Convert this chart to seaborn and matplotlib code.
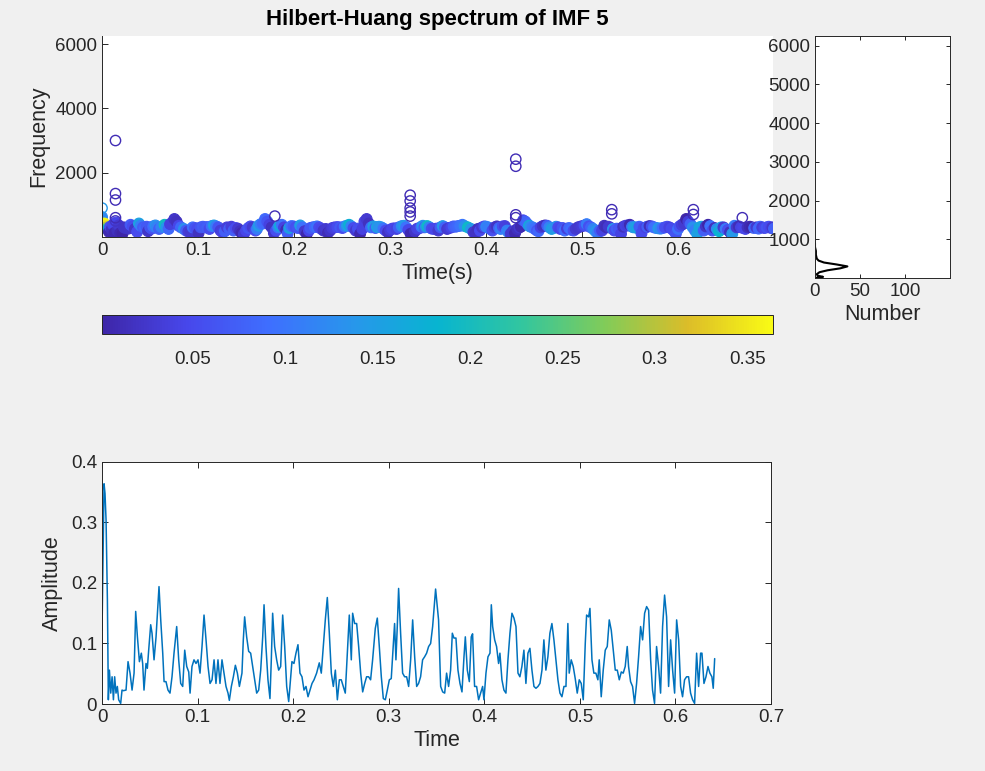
import matplotlib
matplotlib.use("Agg")
import matplotlib.pyplot as plt
import numpy as np
import seaborn as sns
from matplotlib.colors import LinearSegmentedColormap, Normalize
from matplotlib.cm import ScalarMappable
from matplotlib.ticker import FuncFormatter

# --- data ---
time_s = [
    0.0000, 0.0021, 0.0031, 0.0042, 0.0049, 0.0056, 0.0066, 0.0077, 0.0091, 0.0105,
    0.0119, 0.0132, 0.0146, 0.0160, 0.0174, 0.0195, 0.0209, 0.0223, 0.0251, 0.0272,
    0.0293, 0.0314, 0.0335, 0.0352, 0.0370, 0.0391, 0.0411, 0.0425, 0.0439, 0.0460,
    0.0474, 0.0488, 0.0509, 0.0523, 0.0544, 0.0565, 0.0596, 0.0614, 0.0635, 0.0649,
    0.0669, 0.0690, 0.0711, 0.0732, 0.0753, 0.0781, 0.0802, 0.0823, 0.0844, 0.0865,
    0.0886, 0.0907, 0.0921, 0.0941, 0.0962, 0.0983, 0.1004, 0.1025, 0.1046, 0.1067,
    0.1088, 0.1109, 0.1130, 0.1151, 0.1172, 0.1192, 0.1213, 0.1234, 0.1255, 0.1276,
    0.1297, 0.1318, 0.1332, 0.1353, 0.1374, 0.1395, 0.1416, 0.1437, 0.1464, 0.1478,
    0.1492, 0.1513, 0.1534, 0.1555, 0.1576, 0.1597, 0.1618, 0.1639, 0.1660, 0.1681,
    0.1695, 0.1715, 0.1736, 0.1757, 0.1771, 0.1785, 0.1806, 0.1827, 0.1848, 0.1869,
    0.1890, 0.1911, 0.1932, 0.1953, 0.1974, 0.1987, 0.2008, 0.2029, 0.2050, 0.2071,
    0.2092, 0.2113, 0.2134, 0.2155, 0.2176, 0.2197, 0.2218, 0.2245, 0.2273, 0.2294,
    0.2315, 0.2336, 0.2357, 0.2378, 0.2399, 0.2420, 0.2441, 0.2462, 0.2483, 0.2503,
    0.2524, 0.2545, 0.2566, 0.2587, 0.2608, 0.2622, 0.2643, 0.2664, 0.2685, 0.2706,
    0.2727, 0.2748, 0.2768, 0.2789, 0.2810, 0.2831, 0.2859, 0.2880, 0.2901, 0.2922,
    0.2943, 0.2964, 0.2985, 0.3006, 0.3026, 0.3047, 0.3061, 0.3075, 0.3089, 0.3103,
    0.3124, 0.3145, 0.3166, 0.3187, 0.3208, 0.3229, 0.3250, 0.3271, 0.3292, 0.3312,
    0.3333, 0.3354, 0.3375, 0.3396, 0.3417, 0.3438, 0.3459, 0.3490, 0.3521, 0.3543,
    0.3564, 0.3585, 0.3605, 0.3626, 0.3647, 0.3665, 0.3682, 0.3703, 0.3724, 0.3745,
    0.3766, 0.3787, 0.3801, 0.3822, 0.3843, 0.3863, 0.3877, 0.3898, 0.3919, 0.3940,
    0.3961, 0.3982, 0.3996, 0.4017, 0.4038, 0.4059, 0.4073, 0.4087, 0.4108, 0.4128,
    0.4149, 0.4163, 0.4184, 0.4205, 0.4226, 0.4247, 0.4268, 0.4289, 0.4310, 0.4331,
    0.4352, 0.4372, 0.4393, 0.4414, 0.4435, 0.4456, 0.4477, 0.4498, 0.4519, 0.4540,
    0.4561, 0.4582, 0.4603, 0.4623, 0.4644, 0.4665, 0.4686, 0.4707, 0.4728, 0.4749,
    0.4770, 0.4791, 0.4812, 0.4833, 0.4854, 0.4874, 0.4888, 0.4909, 0.4930, 0.4951,
    0.4972, 0.4993, 0.5014, 0.5035, 0.5056, 0.5070, 0.5091, 0.5105, 0.5126, 0.5146,
    0.5167, 0.5188, 0.5202, 0.5223, 0.5244, 0.5265, 0.5286, 0.5307, 0.5328, 0.5349,
    0.5370, 0.5391, 0.5412, 0.5433, 0.5453, 0.5474, 0.5495, 0.5509, 0.5530, 0.5551,
    0.5572, 0.5593, 0.5614, 0.5635, 0.5656, 0.5677, 0.5698, 0.5719, 0.5740, 0.5760,
    0.5781, 0.5802, 0.5823, 0.5844, 0.5865, 0.5886, 0.5907, 0.5928, 0.5949, 0.5970,
    0.5991, 0.6012, 0.6033, 0.6054, 0.6074, 0.6095, 0.6116, 0.6137, 0.6158, 0.6179,
    0.6200, 0.6221, 0.6242, 0.6263, 0.6277, 0.6298, 0.6319, 0.6340, 0.6360, 0.6381,
    0.6395, 0.6410,
]

amplitude = [
    0.122, 0.364, 0.348, 0.304, 0.238, 0.172, 0.007, 0.056, 0.018, 0.045,
    0.007, 0.045, 0.018, 0.029, 0.007, 0.001, 0.023, 0.022, 0.023, 0.070,
    0.051, 0.023, 0.051, 0.153, 0.111, 0.070, 0.084, 0.067, 0.023, 0.067,
    0.059, 0.089, 0.131, 0.117, 0.073, 0.111, 0.194, 0.139, 0.084, 0.037,
    0.037, 0.023, 0.018, 0.045, 0.084, 0.128, 0.073, 0.034, 0.029, 0.089,
    0.062, 0.053, 0.018, 0.062, 0.073, 0.067, 0.073, 0.051, 0.095, 0.147,
    0.106, 0.062, 0.034, 0.040, 0.073, 0.034, 0.073, 0.034, 0.073, 0.051,
    0.029, 0.018, 0.006, 0.029, 0.045, 0.064, 0.051, 0.029, 0.051, 0.106,
    0.144, 0.111, 0.087, 0.084, 0.062, 0.040, 0.018, 0.023, 0.056, 0.111,
    0.164, 0.095, 0.040, 0.009, 0.073, 0.150, 0.095, 0.073, 0.056, 0.062,
    0.147, 0.095, 0.029, 0.004, 0.045, 0.070, 0.067, 0.084, 0.098, 0.051,
    0.045, 0.023, 0.029, 0.012, 0.023, 0.034, 0.040, 0.051, 0.068, 0.051,
    0.095, 0.139, 0.176, 0.117, 0.051, 0.029, 0.056, 0.007, 0.040, 0.040,
    0.029, 0.018, 0.084, 0.147, 0.073, 0.150, 0.133, 0.133, 0.095, 0.051,
    0.020, 0.034, 0.045, 0.045, 0.040, 0.073, 0.125, 0.142, 0.095, 0.045,
    0.009, 0.007, 0.023, 0.040, 0.042, 0.095, 0.133, 0.073, 0.128, 0.191,
    0.117, 0.051, 0.045, 0.045, 0.029, 0.073, 0.139, 0.078, 0.029, 0.034,
    0.045, 0.073, 0.078, 0.084, 0.095, 0.100, 0.128, 0.190, 0.139, 0.029,
    0.020, 0.018, 0.051, 0.029, 0.056, 0.117, 0.109, 0.109, 0.056, 0.034,
    0.020, 0.078, 0.111, 0.056, 0.037, 0.111, 0.116, 0.029, 0.029, 0.007,
    0.018, 0.029, 0.007, 0.051, 0.078, 0.084, 0.164, 0.128, 0.106, 0.095,
    0.067, 0.084, 0.040, 0.023, 0.018, 0.073, 0.117, 0.150, 0.142, 0.128,
    0.051, 0.045, 0.062, 0.089, 0.034, 0.084, 0.092, 0.056, 0.029, 0.026,
    0.029, 0.034, 0.056, 0.106, 0.056, 0.078, 0.117, 0.133, 0.106, 0.073,
    0.040, 0.018, 0.012, 0.029, 0.029, 0.133, 0.051, 0.073, 0.062, 0.042,
    0.018, 0.040, 0.034, 0.007, 0.100, 0.147, 0.144, 0.158, 0.073, 0.051,
    0.051, 0.040, 0.073, 0.012, 0.056, 0.089, 0.095, 0.139, 0.122, 0.089,
    0.056, 0.056, 0.040, 0.053, 0.051, 0.062, 0.095, 0.062, 0.037, 0.029,
    0.001, 0.034, 0.078, 0.128, 0.106, 0.150, 0.161, 0.155, 0.073, 0.023,
    0.001, 0.095, 0.062, 0.018, 0.128, 0.180, 0.144, 0.029, 0.106, 0.056,
    0.018, 0.139, 0.106, 0.029, 0.012, 0.040, 0.045, 0.045, 0.018, 0.007,
    0.001, 0.084, 0.029, 0.084, 0.084, 0.034, 0.045, 0.062, 0.051, 0.045,
    0.026, 0.075,
]

# instantaneous frequency (Hz) for the same samples, estimated from the band
inst_freq = [
    620, 420, 350, 300, 260, 230, 160, 320, 240, 380,
    130, 450, 200, 360, 120, 100, 300, 280, 260, 380,
    330, 250, 160, 420, 350, 300, 280, 320, 180, 300,
    260, 330, 360, 300, 250, 310, 380, 300, 250, 400,
    450, 560, 480, 350, 300, 250, 200, 170, 150, 300,
    280, 250, 120, 300, 320, 300, 310, 250, 340, 360,
    330, 300, 200, 140, 180, 300, 250, 320, 200, 280,
    260, 180, 120, 90, 200, 280, 330, 300, 200, 250,
    350, 400, 420, 560, 480, 380, 300, 120, 200, 300,
    350, 380, 300, 220, 110, 280, 340, 330, 300, 280,
    360, 300, 180, 90, 200, 280, 300, 310, 330, 300,
    250, 200, 250, 130, 200, 280, 300, 310, 300, 280,
    330, 350, 380, 330, 280, 200, 260, 100, 250, 480,
    560, 420, 300, 330, 280, 310, 320, 300, 260, 200,
    150, 220, 260, 270, 250, 300, 340, 350, 300, 220,
    100, 90, 180, 260, 270, 320, 350, 300, 320, 340,
    300, 260, 250, 260, 200, 300, 340, 300, 250, 280,
    300, 330, 320, 340, 350, 380, 340, 300, 250, 150,
    120, 250, 200, 300, 330, 320, 300, 250, 200, 300,
    330, 280, 250, 330, 340, 200, 150, 100, 180, 120,
    250, 300, 320, 520, 480, 400, 350, 320, 300, 250,
    200, 180, 300, 340, 360, 350, 300, 250, 280, 320,
    300, 250, 280, 200, 260, 280, 220, 200, 250, 300,
    320, 340, 360, 400, 330, 300, 250, 180, 120, 200,
    200, 350, 300, 320, 280, 250, 200, 260, 250, 100,
    320, 350, 360, 380, 320, 300, 300, 280, 320, 110,
    280, 300, 320, 340, 330, 300, 280, 270, 260, 280,
    300, 320, 300, 260, 200, 100, 250, 330, 380, 420,
    560, 480, 400, 300, 200, 100, 300, 320, 200, 330,
    380, 340, 200, 280, 250, 180, 300, 300, 250, 220,
    150, 100, 350, 300, 330, 300, 280, 250, 300, 320,
    300, 280, 300, 260, 320, 300, 280, 300, 320, 280,
    300, 260,
]

# the spectrum panel runs on a longer time base than the amplitude panel
spec_time_end = 0.70

# isolated frequency spikes (spectrum time, Hz, amplitude)
spike_t = [0.000, 0.014, 0.014, 0.014, 0.014, 0.014, 0.180, 0.321, 0.321, 0.321, 0.321,
           0.321, 0.431, 0.431, 0.431, 0.431, 0.531, 0.531, 0.616, 0.616, 0.667]
spike_f = [900, 3000, 1350, 1150, 600, 500, 650, 1300, 1120, 900, 780,
           650, 2420, 2200, 690, 600, 850, 720, 850, 700, 600]
spike_a = [0.14, 0.01, 0.01, 0.01, 0.01, 0.02, 0.01, 0.01, 0.01, 0.01, 0.01,
           0.01, 0.01, 0.01, 0.01, 0.01, 0.01, 0.01, 0.01, 0.01, 0.01]

# marginal histogram of frequency
hist_freq = [0, 30, 60, 100, 150, 200, 250, 300, 350, 400, 450, 500, 600, 700, 800, 900]
hist_count = [0, 9, 3, 2, 5, 14, 28, 36, 24, 10, 4, 2, 1, 1, 0, 0]

cbar_ticks = [0.05, 0.1, 0.15, 0.2, 0.25, 0.3, 0.35]

# parula-like colour map
parula = LinearSegmentedColormap.from_list("parula", [
    (0.2422, 0.1504, 0.6603), (0.2803, 0.2782, 0.9221), (0.2440, 0.4358, 0.9988),
    (0.1540, 0.5902, 0.9218), (0.0297, 0.7082, 0.8163), (0.1938, 0.7758, 0.6251),
    (0.5044, 0.7993, 0.3480), (0.8634, 0.7406, 0.1596), (0.9769, 0.9839, 0.0805)])

sns.set_theme(style="white")
plt.rcParams.update({
    "font.family": ["Liberation Sans", "DejaVu Sans"],
    "font.size": 13,
    "axes.labelsize": 15.5,
    "xtick.labelsize": 13.5,
    "ytick.labelsize": 13.5,
    "axes.edgecolor": "#262626",
    "axes.linewidth": 0.7,
    "xtick.color": "#262626",
    "ytick.color": "#262626",
    "axes.labelcolor": "#262626",
})

GRAY = "#f0f0f0"
fmt = FuncFormatter(lambda v, p: f"{v:g}")
norm = Normalize(vmin=min(amplitude), vmax=max(amplitude))

fig = plt.figure(figsize=(9.85, 7.71), dpi=100, facecolor=GRAY)

# --- Hilbert-Huang spectrum scatter ---
ax_sp = fig.add_axes([0.1036, 0.6926, 0.6812, 0.2607])
spec_t = np.array(time_s) * (spec_time_end / time_s[-1])
sns.scatterplot(x=spec_t, y=inst_freq, hue=amplitude, palette=parula, hue_norm=norm,
                s=60, legend=False, ax=ax_sp)
band = ax_sp.collections[-1]
band.set_edgecolors(band.get_facecolors())
band.set_linewidths(0.8)
sns.scatterplot(x=spike_t, y=spike_f, hue=spike_a, palette=parula, hue_norm=norm,
                s=55, legend=False, ax=ax_sp)
spikes = ax_sp.collections[-1]
spikes.set_edgecolors(spikes.get_facecolors())
spikes.set_facecolors("none")
spikes.set_linewidths(1.0)
ax_sp.set_xlim(0, 0.699)
ax_sp.set_ylim(0, 6250)
ax_sp.set_xticks([0, 0.1, 0.2, 0.3, 0.4, 0.5, 0.6])
ax_sp.set_yticks([2000, 4000, 6000])
ax_sp.xaxis.set_major_formatter(fmt)
ax_sp.spines[["top", "right"]].set_visible(False)
ax_sp.tick_params(direction="in", length=4, width=0.7, bottom=True, left=True)
ax_sp.set_xlabel("Time(s)", labelpad=3)
ax_sp.set_ylabel("Frequency", labelpad=4)
ax_sp.set_title("Hilbert-Huang spectrum of IMF 5", fontsize=16, fontweight="bold",
                pad=8, color="black")

# --- marginal histogram ---
ax_h = fig.add_axes([0.8274, 0.6394, 0.1371, 0.3139])
sns.lineplot(x=hist_count, y=hist_freq, orient="y", sort=False, estimator=None,
             color="black", lw=1.5, ax=ax_h)
ax_h.set_xlim(0, 150)
ax_h.set_ylim(0, 6250)
ax_h.set_xticks([0, 50, 100])
ax_h.set_yticks([1000, 2000, 3000, 4000, 5000, 6000])
ax_h.tick_params(direction="in", length=3, width=0.7, top=True, right=True,
                 bottom=True, left=True)
ax_h.set_xlabel("Number", labelpad=3)
ax_h.set_ylabel("")

# --- colour bar ---
cax = fig.add_axes([0.1036, 0.5668, 0.6812, 0.0246])
cb = fig.colorbar(ScalarMappable(norm=norm, cmap=parula), cax=cax, orientation="horizontal")
cb.set_ticks(cbar_ticks)
cb.ax.xaxis.set_major_formatter(fmt)
cb.ax.tick_params(direction="in", length=4, width=0.7, pad=12)
cb.outline.set_linewidth(0.7)
cb.outline.set_edgecolor("#262626")

# --- amplitude trace ---
ax_a = fig.add_axes([0.1036, 0.0869, 0.6792, 0.3139])
sns.lineplot(x=time_s, y=amplitude, estimator=None, color="#0072BD", lw=1.1, ax=ax_a)
ax_a.set_xlim(0, 0.7)
ax_a.set_ylim(0, 0.4)
ax_a.set_xticks([0, 0.1, 0.2, 0.3, 0.4, 0.5, 0.6, 0.7])
ax_a.set_yticks([0, 0.1, 0.2, 0.3, 0.4])
ax_a.xaxis.set_major_formatter(fmt)
ax_a.yaxis.set_major_formatter(fmt)
ax_a.tick_params(direction="in", length=4, width=0.7, top=True, right=True,
                 bottom=True, left=True)
ax_a.set_xlabel("Time", labelpad=3)
ax_a.set_ylabel("Amplitude", labelpad=6)

fig.savefig("out.png", dpi=100, facecolor=GRAY)
